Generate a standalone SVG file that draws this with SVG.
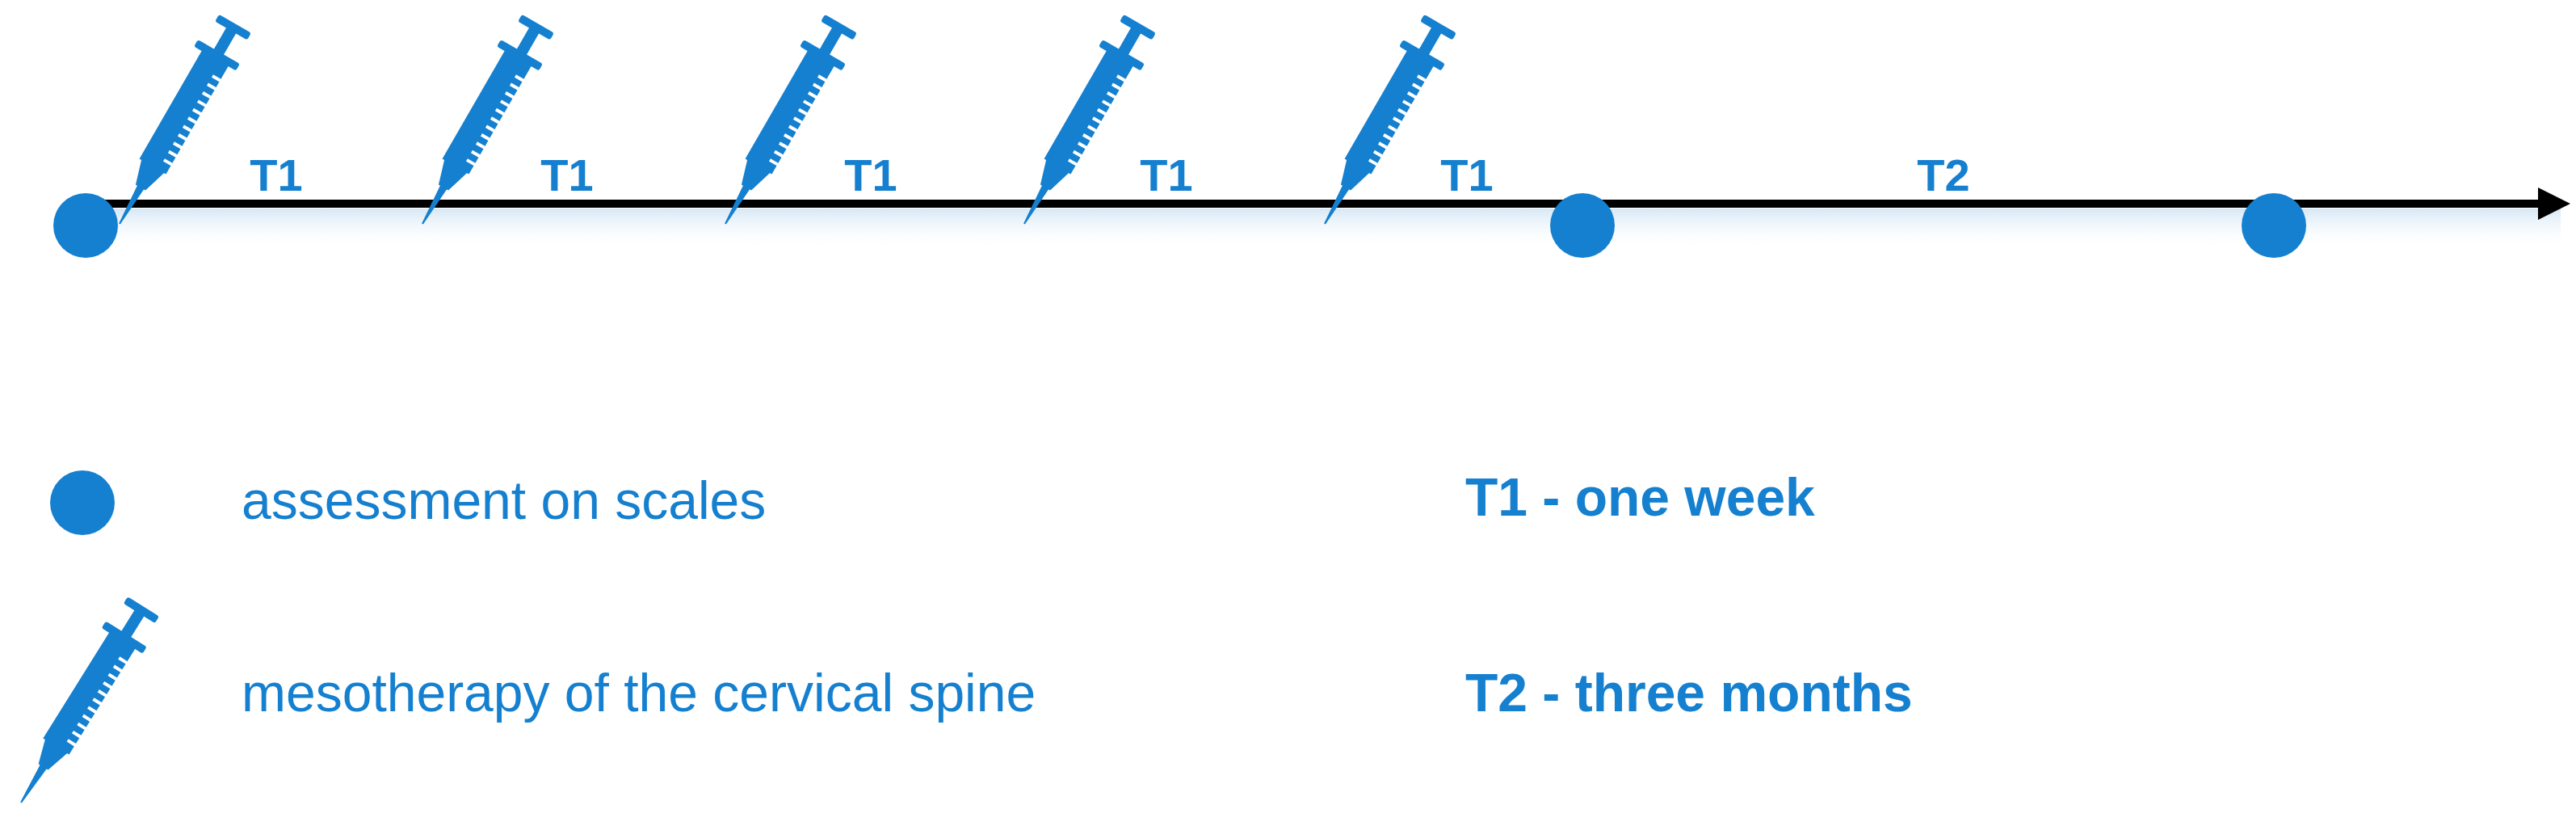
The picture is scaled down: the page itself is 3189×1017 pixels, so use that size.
<svg xmlns="http://www.w3.org/2000/svg" width="3189" height="1017" viewBox="0 0 3189 1017">
<style>
.b{fill:#1580cf}
.lbl{font-family:"Liberation Sans",Arial,sans-serif;font-weight:bold;font-size:56px;fill:#1580cf;text-anchor:middle}
.leg{font-family:"Liberation Sans",Arial,sans-serif;font-size:66px;fill:#1580cf}
.legb{font-family:"Liberation Sans",Arial,sans-serif;font-weight:bold;font-size:66px;fill:#1580cf}
</style>
<defs>
<linearGradient id="glow" x1="0" y1="0" x2="0" y2="1">
<stop offset="0" stop-color="#d6e8f6"/><stop offset="1" stop-color="#ffffff" stop-opacity="0"/>
</linearGradient>
<marker id="arr" viewBox="0 0 10 10" refX="2" refY="5" markerWidth="4" markerHeight="4" orient="auto" markerUnits="strokeWidth">
<path d="M0,0 L10,5 L0,10 z" fill="#000"/>
</marker>
<g id="syr">
<polygon class="b" points="-1,0 1,0 5,-56 -5,-56"/>
<polygon class="b" points="-7,-52 7,-52 17,-85 -17,-85"/>
<rect class="b" x="-19" y="-240" width="38" height="158"/>
<g stroke="#fff" stroke-width="4">
<line x1="8" y1="-96" x2="20" y2="-96"/><line x1="8" y1="-108" x2="20" y2="-108"/><line x1="8" y1="-120" x2="20" y2="-120"/><line x1="8" y1="-132" x2="20" y2="-132"/><line x1="8" y1="-144" x2="20" y2="-144"/><line x1="8" y1="-156" x2="20" y2="-156"/><line x1="8" y1="-168" x2="20" y2="-168"/><line x1="8" y1="-180" x2="20" y2="-180"/><line x1="8" y1="-192" x2="20" y2="-192"/><line x1="8" y1="-204" x2="20" y2="-204"/><line x1="8" y1="-216" x2="20" y2="-216"/>
</g>
<rect class="b" x="-30" y="-246" width="60" height="10" rx="3"/>
<rect class="b" x="-7" y="-278" width="14" height="36"/>
<rect class="b" x="-23" y="-286" width="46" height="10" rx="3"/>
</g>
</defs>
<rect x="110" y="258" width="3060" height="50" fill="url(#glow)"/>
<g id="connectors">
<line x1="106" y1="252" x2="3150" y2="252" stroke="#000" stroke-width="10" marker-end="url(#arr)"/>
</g>
<g id="n_circle1"><circle class="b" cx="106" cy="279" r="40"/></g>
<g id="n_circle2"><circle class="b" cx="1959" cy="279" r="40"/></g>
<g id="n_circle3"><circle class="b" cx="2815" cy="279" r="40"/></g>
<g id="n_syr1"><use href="#syr" transform="translate(148,277) rotate(30)"/></g>
<g id="n_syr2"><use href="#syr" transform="translate(523,277) rotate(30)"/></g>
<g id="n_syr3"><use href="#syr" transform="translate(898,277) rotate(30)"/></g>
<g id="n_syr4"><use href="#syr" transform="translate(1268,277) rotate(30)"/></g>
<g id="n_syr5"><use href="#syr" transform="translate(1640,277) rotate(30)"/></g>
<g id="labels">
<text class="lbl" x="342" y="236">T1</text>
<text class="lbl" x="702" y="236">T1</text>
<text class="lbl" x="1078" y="236">T1</text>
<text class="lbl" x="1444" y="236">T1</text>
<text class="lbl" x="1816" y="236">T1</text>
<text class="lbl" x="2406" y="236">T2</text>
</g>
<g id="legend">
<circle class="b" cx="102" cy="622" r="40"/>
<text class="leg" x="299" y="642">assessment on scales</text>
<use href="#syr" transform="translate(26,993) rotate(32)"/>
<text class="leg" x="299" y="880">mesotherapy of the cervical spine</text>
<text class="legb" x="1814" y="638">T1 - one week</text>
<text class="legb" x="1814" y="880">T2 - three months</text>
</g>
</svg>
